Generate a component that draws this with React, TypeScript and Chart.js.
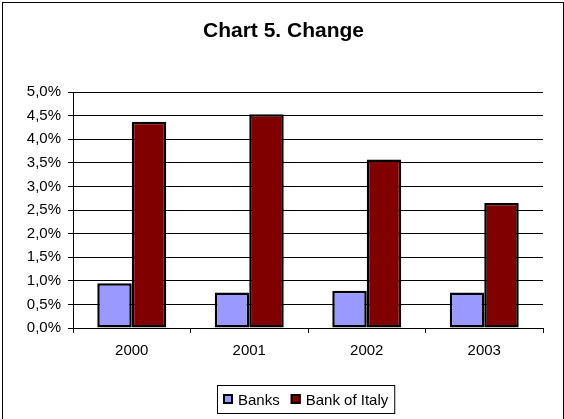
import React, { useEffect, useRef } from "react";
import { Chart, registerables } from "chart.js";

Chart.register(...registerables);

const categories = ["2000", "2001", "2002", "2003"];
const banksValues = [0.95, 0.75, 0.79, 0.75];
const bankOfItalyValues = [4.37, 4.53, 3.57, 2.65];
const seriesNames = ["Banks", "Bank of Italy"];
const seriesColors = ["#9999FF", "#800000"];
const titleText = "Chart 5. Change";
const yMin = 0;
const yMax = 5;
const yStep = 0.5;

const FONT = "Arial, 'Liberation Sans', Helvetica, sans-serif";

const decorPlugin = {
  id: "decor",
  afterDraw(chart: any) {
    const ctx: CanvasRenderingContext2D = chart.ctx;
    ctx.save();
    // outer frame
    ctx.strokeStyle = "#000";
    ctx.lineWidth = 1;
    ctx.strokeRect(2.5, 2.5, 561, 430);
    // title
    ctx.fillStyle = "#000";
    ctx.font = `bold 21px ${FONT}`;
    ctx.textAlign = "center";
    ctx.textBaseline = "alphabetic";
    ctx.fillText(titleText, 283.5, 37);
    // legend
    ctx.font = `15px ${FONT}`;
    ctx.textAlign = "left";
    const widths = seriesNames.map((n) => ctx.measureText(n).width);
    const total =
      6 + widths.reduce((s, w) => s + 10 + 5 + w, 0) + 11 * (seriesNames.length - 1) + 6;
    const cx = (chart.chartArea.left + chart.chartArea.right) / 2 - 2;
    const left = Math.round(cx - total / 2);
    const top = 385;
    const h = 28;
    ctx.strokeStyle = "#000";
    ctx.lineWidth = 1;
    ctx.strokeRect(left + 0.5, top + 0.5, total, h);
    let x = left + 6;
    seriesNames.forEach((name, i) => {
      ctx.fillStyle = seriesColors[i];
      ctx.fillRect(x, top + 9, 10, 10);
      ctx.strokeStyle = "#000";
      ctx.lineWidth = 2;
      ctx.strokeRect(x + 1, top + 10, 8, 8);
      ctx.fillStyle = "#000";
      ctx.fillText(name, x + 15, top + 20);
      x += 10 + 5 + widths[i] + 11;
    });
    ctx.restore();
  },
};

export default function App() {
  const ref = useRef<HTMLCanvasElement | null>(null);

  useEffect(() => {
    if (!ref.current) return;
    const chart = new Chart(ref.current, {
      type: "bar",
      data: {
        labels: categories,
        datasets: [
          {
            label: seriesNames[0],
            data: banksValues,
            backgroundColor: seriesColors[0],
            borderColor: "#000",
            borderWidth: 2.5,
            borderSkipped: false,
            categoryPercentage: 0.587,
            barPercentage: 1,
          },
          {
            label: seriesNames[1],
            data: bankOfItalyValues,
            backgroundColor: seriesColors[1],
            borderColor: "#000",
            borderWidth: 2.5,
            borderSkipped: false,
            categoryPercentage: 0.587,
            barPercentage: 1,
          },
        ],
      },
      options: {
        responsive: false,
        animation: false,
        devicePixelRatio: 1,
        layout: { padding: { top: 92, right: 21, left: 0, bottom: 50 } },
        plugins: {
          legend: { display: false },
          title: { display: false },
          tooltip: { enabled: false },
        },
        scales: {
          x: {
            afterFit: (scale: any) => {
              scale.height = 41;
            },
            grid: {
              display: true,
              drawOnChartArea: false,
              drawTicks: true,
              tickLength: 5,
              color: "#000",
              offset: true,
            },
            border: { display: true, color: "#000" },
            ticks: {
              color: "#000",
              padding: 9,
              font: { family: FONT, size: 15 },
            },
          },
          y: {
            min: yMin,
            max: yMax,
            afterFit: (scale: any) => {
              scale.width = 73;
            },
            grid: {
              color: "#000",
              lineWidth: 1,
              drawTicks: true,
              tickLength: 5,
            },
            border: { display: true, color: "#000" },
            ticks: {
              stepSize: yStep,
              color: "#000",
              padding: 7,
              font: { family: FONT, size: 15 },
              callback: (v: any) => Number(v).toFixed(1).replace(".", ",") + "%",
            },
          },
        },
      },
      plugins: [decorPlugin],
    });
    return () => chart.destroy();
  }, []);

  return (
    <div style={{ position: "absolute", left: 0, top: 0, width: 564, height: 419, background: "#fff" }}>
      <canvas ref={ref} width={564} height={419} style={{ display: "block" }} />
    </div>
  );
}
